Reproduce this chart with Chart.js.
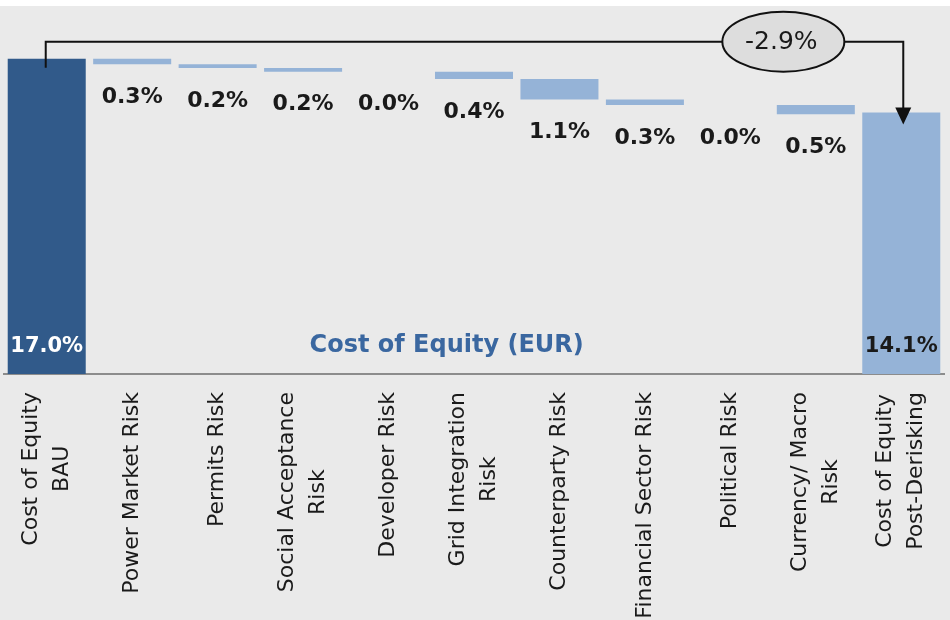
<!DOCTYPE html>
<html>
<head>
<meta charset="utf-8">
<script src="https://cdn.jsdelivr.net/npm/chart.js@4.4.1/dist/chart.umd.min.js"></script>
<style>
html,body{margin:0;padding:0;background:#ffffff;}
canvas{display:block;}
</style>
</head>
<body>
<canvas id="c" width="950" height="620"></canvas>
<script>
// ---- data ----
const categories = [
  ["Cost of Equity", "BAU"],
  ["Power Market Risk"],
  ["Permits Risk"],
  ["Social Acceptance", "Risk"],
  ["Developer Risk"],
  ["Grid Integration", "Risk"],
  ["Counterparty Risk"],
  ["Financial Sector Risk"],
  ["Political Risk"],
  ["Currency/ Macro", "Risk"],
  ["Cost of Equity", "Post-Derisking"]
];
const startValue = 17.0;
const riskReductions = [0.3, 0.2, 0.2, 0.0, 0.4, 1.1, 0.3, 0.0, 0.5];
const endValue = 14.1;
const totalChange = -2.9;
const chartTitle = "Cost of Equity (EUR)";

// ---- styling ----
const DARK = '#315A8A';
const LIGHT = '#95B3D7';
const TEXT = '#1a1a1a';
const FONT = '"DejaVu Sans", "Open Sans", sans-serif';

// ---- waterfall segments built from the values ----
const barData = [[0, startValue]];
const lowValues = [0];
let level = startValue;
riskReductions.forEach(r => {
  const top = level;
  level = Math.round((level - r) * 100) / 100;
  barData.push([level, top]);
  lowValues.push(level);
});
barData.push([0, endValue]);
lowValues.push(0);
const barColors = barData.map((d, i) => i === 0 ? DARK : LIGHT);

const bgPlugin = {
  id: 'bg',
  beforeDraw(chart) {
    const ctx = chart.ctx;
    ctx.save();
    ctx.fillStyle = '#ffffff';
    ctx.fillRect(0, 0, chart.width, chart.height);
    ctx.fillStyle = '#EAEAEA';
    ctx.fillRect(0, 6, chart.width, chart.height - 6);
    ctx.restore();
  }
};

const labelsPlugin = {
  id: 'wfLabels',
  afterDatasetsDraw(chart) {
    const ctx = chart.ctx;
    const xs = chart.scales.x, ys = chart.scales.y;
    ctx.save();
    ctx.textAlign = 'center';
    ctx.textBaseline = 'middle';
    ctx.font = 'bold 22px ' + FONT;
    // reduction labels below each floating segment
    riskReductions.forEach((r, k) => {
      const i = k + 1;
      ctx.fillStyle = TEXT;
      ctx.fillText(r.toFixed(1) + '%', xs.getPixelForValue(i), ys.getPixelForValue(lowValues[i]) + 33);
    });
    const base = ys.getPixelForValue(0);
    ctx.font = 'bold 21px ' + FONT;
    ctx.fillStyle = '#ffffff';
    ctx.fillText(startValue.toFixed(1) + '%', xs.getPixelForValue(0), base - 27);
    ctx.fillStyle = TEXT;
    ctx.fillText(endValue.toFixed(1) + '%', xs.getPixelForValue(categories.length - 1), base - 27);
    // title inside the plot
    ctx.font = 'bold 24px ' + FONT;
    ctx.fillStyle = '#3A67A0';
    ctx.fillText(chartTitle, xs.getPixelForValue(4.68), base - 28);
    ctx.restore();
  },
  afterDraw(chart) {
    const ctx = chart.ctx;
    const xs = chart.scales.x, ys = chart.scales.y;
    // category labels, rotated, lines centred on the tick
    ctx.save();
    ctx.font = '22px ' + FONT;
    ctx.fillStyle = TEXT;
    ctx.textAlign = 'center';
    ctx.textBaseline = 'middle';
    const lh = 31;
    const top = xs.top + 18;
    categories.forEach((lines, i) => {
      const px = xs.getPixelForValue(i);
      const w = Math.max(...lines.map(l => ctx.measureText(l).width));
      ctx.save();
      ctx.translate(px, top + w / 2);
      ctx.rotate(-Math.PI / 2);
      lines.forEach((l, j) => ctx.fillText(l, 0, (j - (lines.length - 1) / 2) * lh));
      ctx.restore();
    });
    ctx.restore();

    // bracket annotation with total change
    const x0 = xs.getPixelForValue(0) - 1;
    const x1 = xs.getPixelForValue(categories.length - 1) + 2;
    const yStart = ys.getPixelForValue(startValue);
    const yEnd = ys.getPixelForValue(endValue);
    const yB = yStart - 17;
    const tipY = yEnd + 12;
    const ex = xs.getPixelForValue(8.62), rx = 61, ry = 30;
    ctx.save();
    ctx.strokeStyle = '#111111';
    ctx.lineWidth = 2;
    ctx.beginPath();
    ctx.moveTo(x0, yStart + 9);
    ctx.lineTo(x0, yB);
    ctx.lineTo(ex - rx, yB);
    ctx.moveTo(ex + rx, yB);
    ctx.lineTo(x1, yB);
    ctx.lineTo(x1, tipY - 14);
    ctx.stroke();
    ctx.fillStyle = '#111111';
    ctx.beginPath();
    ctx.moveTo(x1 - 8, tipY - 17);
    ctx.lineTo(x1 + 8, tipY - 17);
    ctx.lineTo(x1, tipY);
    ctx.closePath();
    ctx.fill();
    ctx.beginPath();
    ctx.ellipse(ex, yB, rx, ry, 0, 0, Math.PI * 2);
    ctx.fillStyle = '#DDDDDD';
    ctx.fill();
    ctx.stroke();
    ctx.fillStyle = TEXT;
    ctx.font = '25px ' + FONT;
    ctx.textAlign = 'center';
    ctx.textBaseline = 'middle';
    ctx.fillText(totalChange.toFixed(1) + '%', ex - 2, yB + 1);
    ctx.restore();
  }
};

new Chart(document.getElementById('c'), {
  type: 'bar',
  data: {
    labels: categories.map(c => c.join(' ')),
    datasets: [{
      data: barData,
      backgroundColor: barColors,
      borderWidth: 0,
      borderSkipped: false,
      barPercentage: 0.913,
      categoryPercentage: 1.0
    }]
  },
  options: {
    responsive: false,
    animation: false,
    devicePixelRatio: 1,
    layout: { padding: { left: 4, right: 6, top: 3, bottom: 0 } },
    plugins: { legend: { display: false }, tooltip: { enabled: false } },
    scales: {
      x: {
        grid: { display: false, drawTicks: false },
        ticks: { display: false },
        border: { display: true, color: '#8c8c8c', width: 2 },
        afterFit(s) { s.height = 246; }
      },
      y: { display: false, min: 0, max: 20 }
    }
  },
  plugins: [bgPlugin, labelsPlugin]
});
</script>
</body>
</html>
